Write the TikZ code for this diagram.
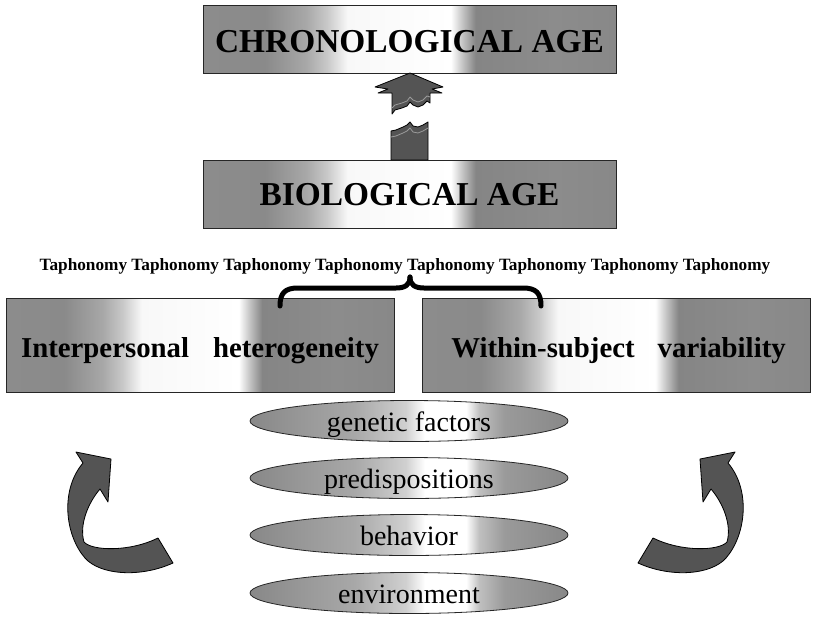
\documentclass[tikz,border=0pt]{standalone}
\usepackage{fontspec}
\setmainfont{Liberation Serif}
\usetikzlibrary{shapes.geometric}
\definecolor{bA}{HTML}{8C8C8C}
\definecolor{bB}{HTML}{8A8A8A}
\definecolor{bC}{HTML}{A8A8A8}
\definecolor{bD}{HTML}{C8C8C8}
\definecolor{bE}{HTML}{F8F8F8}
\definecolor{bF}{HTML}{C0C0C0}
\definecolor{bG}{HTML}{858585}
\definecolor{bH}{HTML}{888888}
\definecolor{eA}{HTML}{888888}
\definecolor{eB}{HTML}{A8A8A8}
\definecolor{eC}{HTML}{D0D0D0}
\definecolor{eD}{HTML}{C0C0C0}
\definecolor{eE}{HTML}{9A9A9A}
\definecolor{arrowgray}{HTML}{545454}
\definecolor{tearline}{HTML}{9A9A9A}
\pgfdeclarehorizontalshading{boxshade}{100bp}{color(0bp)=(bA); color(25bp)=(bA); color(32.5bp)=(bB); color(37.5bp)=(bC); color(40bp)=(bD); color(42.5bp)=(bE); color(55bp)=(white); color(56.5bp)=(bF); color(58bp)=(bG); color(67.5bp)=(bA); color(75bp)=(bH); color(100bp)=(bH)}
\pgfdeclarehorizontalshading{ellshade}{100bp}{color(0bp)=(eA); color(25bp)=(eA); color(41.5bp)=(eB); color(49.5bp)=(eC); color(52.5bp)=(white); color(59bp)=(white); color(61bp)=(eD); color(65bp)=(eE); color(75bp)=(eA); color(100bp)=(eA)}
\tikzset{
  gradbox/.style={draw=black!85, line width=0.9pt, shade, shading=boxshade, inner sep=0pt},
  agebox/.style={gradbox, minimum width=413pt, minimum height=68pt},
  sidebox/.style={gradbox, minimum width=388pt, minimum height=94pt},
  factor/.style={ellipse, draw=black!85, line width=0.8pt, shade, shading=ellshade, minimum width=318pt, minimum height=41pt, inner sep=0pt},
  agetext/.style={anchor=base, inner sep=0pt, font=\bfseries\fontsize{33.4}{36}\selectfont},
  sidetext/.style={anchor=base, inner sep=0pt, font=\bfseries\fontsize{28.8}{32}\selectfont},
  factortext/.style={anchor=base, inner sep=0pt, font=\fontsize{28}{32}\selectfont},
  taphtext/.style={anchor=base, inner sep=0pt, font=\bfseries\fontsize{17.25}{20}\selectfont},
  arrowshape/.style={fill=arrowgray, draw=black, line width=0.8pt, line join=round},
  tear/.style={draw=tearline, line width=0.8pt, line join=round},
  bracestyle/.style={draw=black, line width=5pt, line cap=round, line join=round}
}
\begin{document}
\begin{tikzpicture}[x=1pt, y=-1pt]
\useasboundingbox (0,0) rectangle (813,616);
\fill[white] (0,0) rectangle (813,616);

% age boxes
\node[agebox] (chrono) at (409.5,39) {};
\node[agetext] (chronotxt) at ([yshift=-13pt]chrono.center) {CHRONOLOGICAL AGE};
\node[agebox] (bio) at (409.5,194) {};
\node[agetext] (biotxt) at ([yshift=-11pt]bio.center) {BIOLOGICAL AGE};

% broken arrow (upper piece)
\path[arrowshape] (410,73) -- (443,87) -- (432,89) -- (442,93) -- (430,93) -- (430,103)
  -- (427,101) -- (423,105) -- (418,107) -- (413,105) -- (410,102) -- (407,106)
  -- (402,108) -- (395,110) -- (392,114) -- (392,93) -- (378,93) -- (388,89) -- (375,87) -- cycle;
\draw[tear] (392,108) -- (395,105) -- (402,103) -- (407,101) -- (410,97) -- (413,100)
  -- (418,102) -- (423,100) -- (427,96) -- (430,97);
% broken arrow (lower piece)
\path[arrowshape] (391,160) -- (391,131) -- (396,130) -- (403,127) -- (407,125) -- (410,122)
  -- (413,126) -- (418,127) -- (423,125) -- (428,122) -- (428,160) -- cycle;
\draw[tear] (391,137) -- (396,136) -- (403,133) -- (407,131) -- (410,128) -- (413,132)
  -- (418,133) -- (423,131) -- (428,128);

% taphonomy line
\node[taphtext] (taph) at (405,270) {Taphonomy Taphonomy Taphonomy Taphonomy Taphonomy Taphonomy Taphonomy Taphonomy};

% side boxes
\node[sidebox] (inter) at (200,345) {};
\node[sidetext] (intertxt) at ([yshift=-12pt]inter.center) {Interpersonal\hspace{24pt}heterogeneity};
\node[sidebox] (within) at (616.5,345) {};
\node[sidetext] (withintxt) at ([yshift=-12pt, xshift=2pt]within.center) {Within-subject\hspace{23pt}variability};

% brace
\draw[bracestyle] (280,306) .. controls (280,293) and (285,288) .. (298,288) -- (396,288)
  .. controls (405,288) and (410,285) .. (410,277);
\draw[bracestyle] (410,277) .. controls (410,285) and (415,288) .. (424,288) -- (523,288)
  .. controls (536,288) and (541,293) .. (541,306);

% factors
\node[factor] (genetic) at (409,421) {};
\node[factortext] (genetictxt) at ([yshift=-10pt]genetic.center) {genetic factors};
\node[factor] (predisp) at (409,478) {};
\node[factortext] (predisptxt) at ([yshift=-10pt]predisp.center) {predispositions};
\node[factor] (behav) at (409,535) {};
\node[factortext] (behavtxt) at ([yshift=-10pt]behav.center) {behavior};
\node[factor] (envir) at (409,593) {};
\node[factortext] (envirtxt) at ([yshift=-10pt]envir.center) {environment};

% curved arrows
\path[arrowshape] (76,452) -- (111,459) -- (108,502) -- (100,489)
  .. controls (88,503) and (79,525) .. (84,542)
  .. controls (92,551) and (130,552) .. (158,538)
  -- (173,563)
  .. controls (140,578) and (100,575) .. (85,558)
  .. controls (65,535) and (60,490) .. (83,463)
  -- cycle;
\begin{scope}[xshift=811pt, xscale=-1]
\path[arrowshape] (76,452) -- (111,459) -- (108,502) -- (100,489)
  .. controls (88,503) and (79,525) .. (84,542)
  .. controls (92,551) and (130,552) .. (158,538)
  -- (173,563)
  .. controls (140,578) and (100,575) .. (85,558)
  .. controls (65,535) and (60,490) .. (83,463)
  -- cycle;
\end{scope}
\end{tikzpicture}
\end{document}
